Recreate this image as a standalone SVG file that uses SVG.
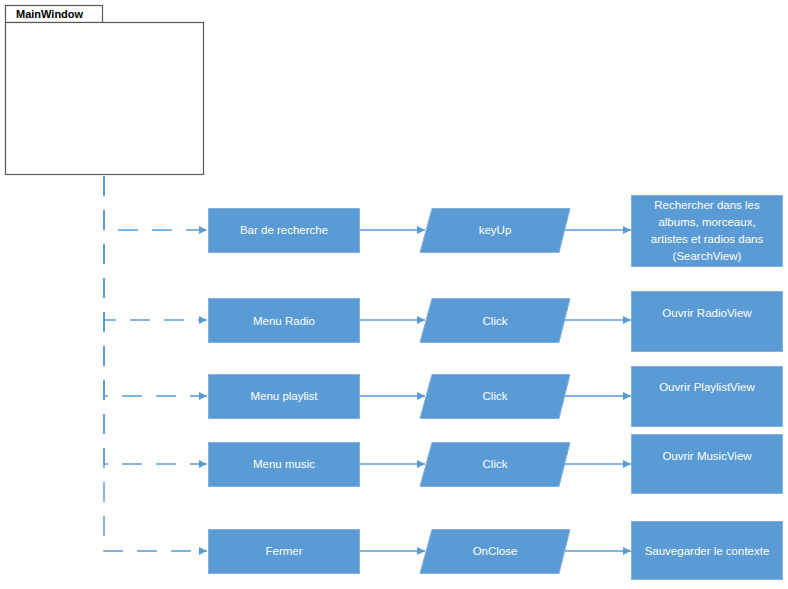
<svg xmlns="http://www.w3.org/2000/svg" width="788" height="589" viewBox="0 0 788 589">
  <defs>
    <style>
      .box { fill: #5B9BD5; stroke: #7FB0DE; stroke-width: 1; }
      .lbl { font-family: "Liberation Sans", Arial, sans-serif; font-size: 11.5px; fill: #FFFFFF; text-anchor: middle; }
      .flow { fill: none; stroke: #5B9BD5; stroke-width: 1.3; marker-end: url(#arr); }
      .dash { fill: none; stroke: #5B9BD5; stroke-width: 1.5; stroke-dasharray: 20 14; marker-end: url(#arr); }
      .frame { fill: #FFFFFF; stroke: #595959; stroke-width: 1.2; }
    </style>
    <marker id="arr" viewBox="0 0 10 10" refX="10" refY="5" markerWidth="8" markerHeight="8" markerUnits="userSpaceOnUse" orient="auto">
      <path d="M0,0 L10,5 L0,10 Z" fill="#5B9BD5"/>
    </marker>
  </defs>

  <!-- Main window frame with title tab -->
  <g id="mainwindow">
    <rect class="frame" x="5.5" y="5.5" width="97" height="17"/>
    <rect class="frame" x="5.5" y="22.5" width="198" height="152"/>
    <text x="16" y="18" font-family="Liberation Sans, Arial, sans-serif" font-size="11px" font-weight="bold" fill="#000">MainWindow</text>
  </g>

  <!-- Connectors -->
  <g id="connectors">
    <path class="dash" d="M104,176 V230 H207"/>
    <path class="dash" d="M104,176 V320 H207"/>
    <path class="dash" d="M104,176 V396 H207"/>
    <path class="dash" d="M104,176 V464 H207"/>
    <path class="dash" d="M104,176 V551 H207"/>

    <path class="flow" d="M359,230 H425"/>
    <path class="flow" d="M359,320 H425"/>
    <path class="flow" d="M359,396 H425"/>
    <path class="flow" d="M359,464 H425"/>
    <path class="flow" d="M359,551 H425"/>

    <path class="flow" d="M565,230 H631"/>
    <path class="flow" d="M565,320 H631"/>
    <path class="flow" d="M565,396 H631"/>
    <path class="flow" d="M565,464 H631"/>
    <path class="flow" d="M565,551 H631"/>
  </g>

  <!-- Row 1 -->
  <g id="bar-recherche">
    <rect class="box" x="208.5" y="208.5" width="151" height="44"/>
    <text class="lbl" x="284" y="234">Bar de recherche</text>
  </g>
  <g id="keyup">
    <polygon class="box" points="432,208.5 570,208.5 559,252.5 420,252.5"/>
    <text class="lbl" x="495" y="234">keyUp</text>
  </g>
  <g id="rechercher">
    <rect class="box" x="631.5" y="195.5" width="151" height="71"/>
    <text class="lbl" x="707" y="209">Rechercher dans les</text>
    <text class="lbl" x="707" y="226">albums, morceaux,</text>
    <text class="lbl" x="707" y="243">artistes et radios dans</text>
    <text class="lbl" x="707" y="260">(SearchView)</text>
  </g>

  <!-- Row 2 -->
  <g id="menu-radio">
    <rect class="box" x="208.5" y="298.5" width="151" height="44"/>
    <text class="lbl" x="284" y="325">Menu Radio</text>
  </g>
  <g id="click-radio">
    <polygon class="box" points="432,298.5 570,298.5 559,342.5 420,342.5"/>
    <text class="lbl" x="495" y="325">Click</text>
  </g>
  <g id="ouvrir-radio">
    <rect class="box" x="631.5" y="291.5" width="151" height="60"/>
    <text class="lbl" x="707" y="317">Ouvrir RadioView</text>
  </g>

  <!-- Row 3 -->
  <g id="menu-playlist">
    <rect class="box" x="208.5" y="374.5" width="151" height="44"/>
    <text class="lbl" x="284" y="400">Menu playlist</text>
  </g>
  <g id="click-playlist">
    <polygon class="box" points="432,374.5 570,374.5 559,418.5 420,418.5"/>
    <text class="lbl" x="495" y="400">Click</text>
  </g>
  <g id="ouvrir-playlist">
    <rect class="box" x="631.5" y="366.5" width="151" height="60"/>
    <text class="lbl" x="707" y="391">Ouvrir PlaylistView</text>
  </g>

  <!-- Row 4 -->
  <g id="menu-music">
    <rect class="box" x="208.5" y="442.5" width="151" height="44"/>
    <text class="lbl" x="284" y="468">Menu music</text>
  </g>
  <g id="click-music">
    <polygon class="box" points="432,442.5 570,442.5 559,486.5 420,486.5"/>
    <text class="lbl" x="495" y="468">Click</text>
  </g>
  <g id="ouvrir-music">
    <rect class="box" x="631.5" y="434.5" width="151" height="59"/>
    <text class="lbl" x="707" y="460">Ouvrir MusicView</text>
  </g>

  <!-- Row 5 -->
  <g id="fermer">
    <rect class="box" x="208.5" y="529.5" width="151" height="44"/>
    <text class="lbl" x="284" y="555">Fermer</text>
  </g>
  <g id="onclose">
    <polygon class="box" points="432,529.5 570,529.5 559,573.5 420,573.5"/>
    <text class="lbl" x="495" y="555">OnClose</text>
  </g>
  <g id="sauvegarder">
    <rect class="box" x="631.5" y="521.5" width="151" height="58"/>
    <text class="lbl" x="707" y="555">Sauvegarder le contexte</text>
  </g>
</svg>
